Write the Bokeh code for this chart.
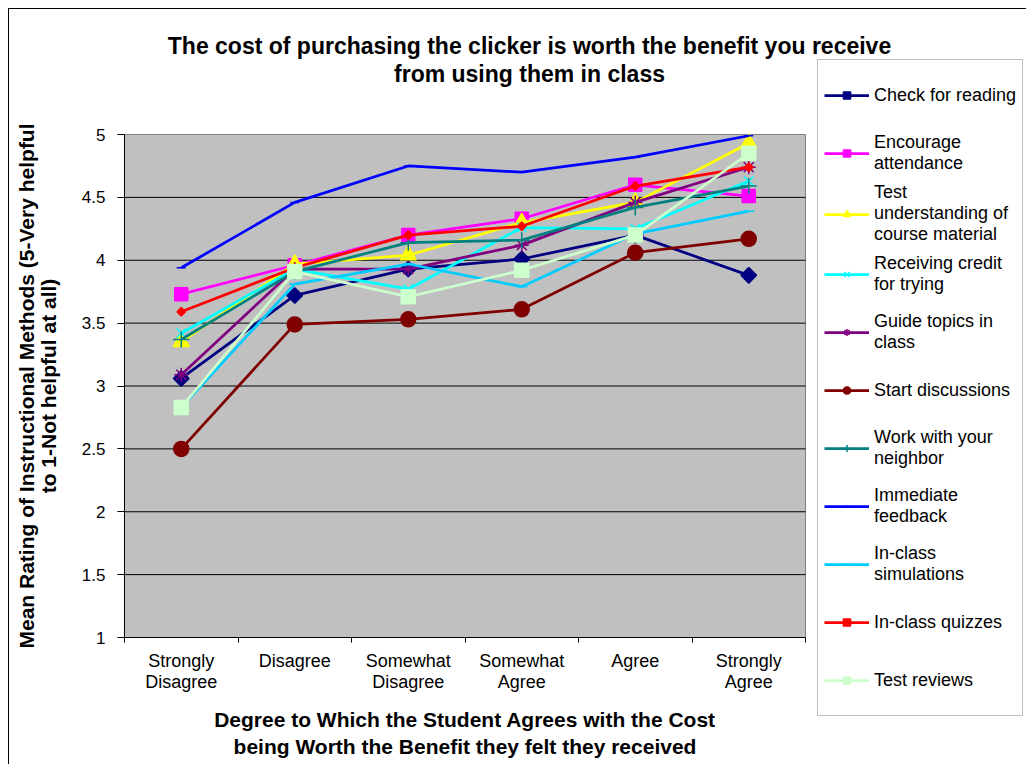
from bokeh.plotting import figure
from bokeh.models import Range1d, FixedTicker, NumeralTickFormatter, Label, Legend, LegendItem
from bokeh.embed import file_html
from bokeh.resources import INLINE

# ---------------- data ----------------
categories = ["Strongly\nDisagree", "Disagree", "Somewhat\nDisagree",
              "Somewhat\nAgree", "Agree", "Strongly\nAgree"]

check_for_reading = [3.06, 3.72, 3.93, 4.01, 4.20, 3.88]
encourage_attendance = [3.73, 3.96, 4.20, 4.33, 4.60, 4.51]
test_understanding = [3.35, 3.97, 4.04, 4.30, 4.46, 4.93]
receiving_credit = [3.42, 3.93, 3.77, 4.26, 4.25, 4.63]
guide_topics = [3.09, 3.93, 3.93, 4.12, 4.46, 4.74]
start_discussions = [2.50, 3.49, 3.53, 3.61, 4.06, 4.17]
work_with_neighbor = [3.37, 3.91, 4.14, 4.16, 4.42, 4.59]
immediate_feedback = [3.94, 4.46, 4.75, 4.70, 4.82, 4.99]
inclass_simulations = [2.83, 3.81, 3.97, 3.79, 4.21, 4.39]
inclass_quizzes = [3.59, 3.94, 4.20, 4.27, 4.59, 4.74]
test_reviews = [2.83, 3.91, 3.71, 3.92, 4.20, 4.85]

series_labels = ["Check for reading", "Encourage\nattendance",
                 "Test\nunderstanding of\ncourse material",
                 "Receiving credit\nfor trying", "Guide topics in\nclass",
                 "Start discussions", "Work with your\nneighbor",
                 "Immediate\nfeedback", "In-class\nsimulations",
                 "In-class quizzes", "Test reviews"]
series_values = [check_for_reading, encourage_attendance, test_understanding,
                 receiving_credit, guide_topics, start_discussions,
                 work_with_neighbor, immediate_feedback, inclass_simulations,
                 inclass_quizzes, test_reviews]

y_ticks = [1, 1.5, 2, 2.5, 3, 3.5, 4, 4.5, 5]

title_line1 = "The cost of purchasing the clicker is worth the benefit you receive"
title_line2 = "from using them in class"
x_title = "Degree to Which the Student Agrees with the Cost\nbeing Worth the Benefit they felt they received"
y_title = "Mean Rating of Instructional Methods (5-Very helpful\nto 1-Not helpful at all)"

# ---------------- styles / layout ----------------
colors = ["#000080", "#FF00FF", "#FFFF00", "#00FFFF", "#800080", "#800000",
          "#008080", "#0000FF", "#00CCFF", "#FF0000", "#CCFFCC"]
markers = ["square", "square", "triangle", "x", "asterisk", "circle",
           "cross", "dash", "dash", "square", "square"]
sizes = [11, 13, 16, 13, 14, 15, 16, 9, 11, 6, 14]
angles = [0.785398, 0, 0, 0, 0, 0, 0, 0, 0, 0.785398, 0]

FONT = "Liberation Sans"
W, H = 1018, 756                       # canvas size
PL, PR, PT, PB = 115, 796, 125, 628    # plot-area edges in canvas pixels

n = len(categories)
y_lo, y_hi = y_ticks[0], y_ticks[-1]
px_x = (PR - PL) / n
px_y = (PB - PT) / (y_hi - y_lo)
x_range = Range1d(0 - PL / px_x, n + (W - PR) / px_x)
y_range = Range1d(y_lo - (H - PB) / px_y, y_hi + PT / px_y)

x_pos = [i + 0.5 for i in range(n)]

p = figure(width=W, height=H, x_range=x_range, y_range=y_range,
           output_backend="svg", toolbar_location=None, min_border=0)
p.background_fill_color = "white"
p.border_fill_color = "white"
p.outline_line_color = None
p.styles = {"margin-left": "8px", "margin-top": "8px",
            "border-left": "1px solid #000", "border-top": "1px solid #000"}
p.title.text = ""
p.xgrid.visible = False
p.ygrid.visible = False

# plot area background and horizontal gridlines
p.quad(left=[0], right=[n], bottom=[y_lo], top=[y_hi],
       fill_color="#C0C0C0", line_color="#808080", line_width=1)
grid_y = y_ticks[1:-1]
p.segment(x0=[0] * len(grid_y), y0=grid_y, x1=[n] * len(grid_y), y1=grid_y,
          line_color="black", line_width=1)

# x axis (fixed at y = 1)
xa = p.xaxis[0]
xa.fixed_location = y_lo
xa.bounds = (0, n)
xa.ticker = FixedTicker(ticks=x_pos, minor_ticks=list(range(n + 1)))
xa.major_label_overrides = {x: c for x, c in zip(x_pos, categories)}
xa.major_tick_in = 0
xa.major_tick_out = 0
xa.minor_tick_in = 0
xa.minor_tick_out = 5
xa.minor_tick_line_color = "black"
xa.axis_line_color = "black"
xa.major_label_text_font = FONT
xa.major_label_text_font_size = "18px"
xa.major_label_text_line_height = 1.06
xa.major_label_text_color = "black"
xa.major_label_standoff = 8
xa.axis_label = x_title
xa.axis_label_text_font = FONT
xa.axis_label_text_font_size = "21px"
xa.axis_label_text_font_style = "bold"
xa.axis_label_text_color = "black"
xa.axis_label_standoff = 13

# y axis (fixed at x = 0)
ya = p.yaxis[0]
ya.fixed_location = 0
ya.bounds = (y_lo, y_hi)
ya.ticker = FixedTicker(ticks=y_ticks)
ya.formatter = NumeralTickFormatter(format="0.[0]")
ya.major_tick_in = 0
ya.major_tick_out = 7
ya.minor_tick_line_color = None
ya.axis_line_color = "black"
ya.major_label_text_font = FONT
ya.major_label_text_font_size = "17px"
ya.major_label_text_color = "black"
ya.major_label_standoff = 12
ya.axis_label = y_title
ya.axis_label_text_font = FONT
ya.axis_label_text_font_size = "21px"
ya.axis_label_text_line_height = 0.96
ya.axis_label_text_font_style = "bold"
ya.axis_label_text_color = "black"
ya.axis_label_standoff = 19

# series
items = []
for name, vals, col, mk, sz, ang in zip(series_labels, series_values, colors,
                                        markers, sizes, angles):
    lr = p.line(x_pos, vals, line_color=col, line_width=2.75)
    sr = p.scatter(x_pos, vals, marker=mk, size=sz, angle=ang,
                   fill_color=col, line_color=col, line_width=1.5)
    items.append(LegendItem(label=name, renderers=[lr, sr]))

legend = Legend(items=items, location=(808, 49))
legend.margin = 0
legend.label_text_font = FONT
legend.label_text_font_size = "18px"
legend.label_text_color = "black"
legend.label_text_line_height = 1.07
legend.glyph_width = 45
legend.glyph_height = 18
legend.label_standoff = 5
legend.padding = 6
legend.spacing = 0
legend.label_height = 58
legend.border_line_color = "#808080"
legend.border_line_width = 1
legend.background_fill_color = "white"
legend.background_fill_alpha = 1
p.add_layout(legend)

# two-line title
for txt, yy in zip([title_line1, title_line2], [H - 36, H - 64]):
    p.add_layout(Label(x=520, y=yy, x_units="screen", y_units="screen", text=txt,
                       text_align="center", text_baseline="middle",
                       text_font=FONT, text_font_size="23px",
                       text_font_style="bold", text_color="black"))

open("out.html", "w").write(file_html(p, INLINE))
